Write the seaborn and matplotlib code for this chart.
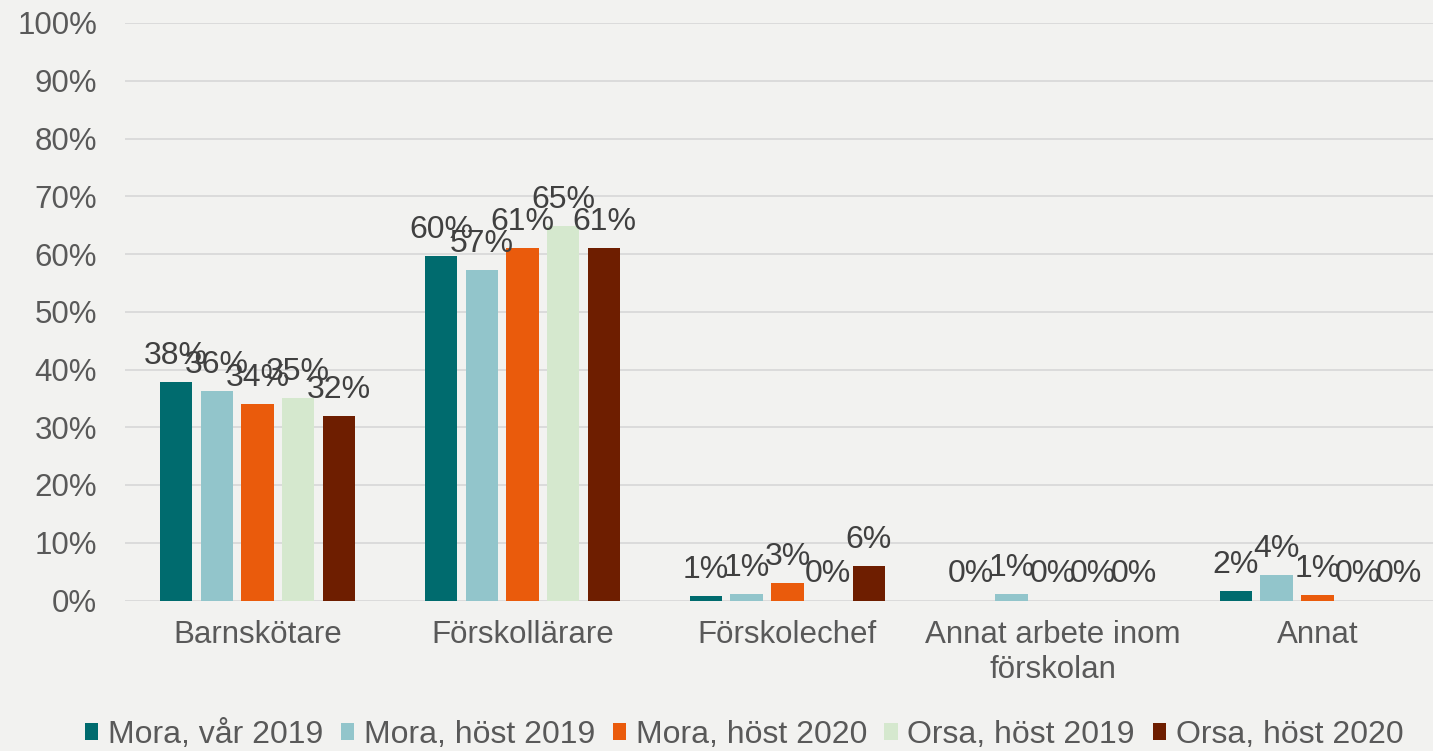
import seaborn as sns
import matplotlib.pyplot as plt
import pandas as pd


# Yrkeskategorier och serier
kategorier = ['Barnskötare', 'Förskollärare', 'Förskolechef',
              'Annat arbete inom\nförskolan', 'Annat']
serier = ['Mora, vår 2019', 'Mora, höst 2019', 'Mora, höst 2020',
          'Orsa, höst 2019', 'Orsa, höst 2020']

mora_var_2019 = [37.8, 59.7, 0.8, 0.0, 1.7]
mora_host_2019 = [36.3, 57.2, 1.1, 1.1, 4.4]
mora_host_2020 = [34.0, 61.0, 3.0, 0.0, 0.95]
orsa_host_2019 = [35.1, 64.8, 0.0, 0.0, 0.0]
orsa_host_2020 = [31.9, 61.0, 6.0, 0.0, 0.0]

farger = ['#006B6E', '#92C5CB', '#EA5B0C', '#D5E8CE', '#6E1E00']

varden = [mora_var_2019, mora_host_2019, mora_host_2020, orsa_host_2019, orsa_host_2020]
rader = []
for serie, vals in zip(serier, varden):
    for kat, v in zip(kategorier, vals):
        rader.append({'kategori': kat, 'serie': serie, 'andel': v})
df = pd.DataFrame(rader)

sns.set_theme(style='white')
plt.rcParams['font.family'] = ['Liberation Sans', 'DejaVu Sans']

bg = '#F2F2F0'
fig = plt.figure(figsize=(14.33, 7.51), dpi=100, facecolor=bg)
ax = fig.add_axes([125 / 1433, 150.5 / 751, 1 - 125 / 1433, (728 - 150.5) / 751])
ax.set_facecolor(bg)

sns.barplot(data=df, x='kategori', y='andel', hue='serie', order=kategorier,
            hue_order=serier, palette=farger, width=0.768, gap=0.2,
            saturation=1, errorbar=None, linewidth=0, ax=ax)

for c in ax.containers:
    ax.bar_label(c, fmt='%.0f%%', padding=8, fontsize=23, color='#404040')

ax.set_ylim(0, 100)
ax.set_xlim(-0.5, 4.436)
ax.set_yticks(range(0, 101, 10))
ax.set_yticklabels([f'{t}%' for t in range(0, 101, 10)])
ax.yaxis.grid(True, color='#D9D9D9', linewidth=1.3)
ax.set_axisbelow(True)
ax.tick_params(axis='y', length=0, pad=20, labelsize=22.5, labelcolor='#595959')
ax.tick_params(axis='x', length=0, pad=14, labelsize=22.5, labelcolor='#595959')
ax.set_xlabel('')
ax.set_ylabel('')
for s in ax.spines.values():
    s.set_visible(False)

handles, labels = ax.get_legend_handles_labels()
ax.legend(handles, labels, loc='center', bbox_to_anchor=(744 / 1433, 16 / 751),
          bbox_transform=fig.transFigure, ncol=5, frameon=False, fontsize=23,
          handlelength=0.42, handleheight=0.42, handletextpad=0.3,
          columnspacing=0.55, labelcolor='#595959', borderaxespad=0, borderpad=0)

fig.savefig('out.png', dpi=100, facecolor=bg)
